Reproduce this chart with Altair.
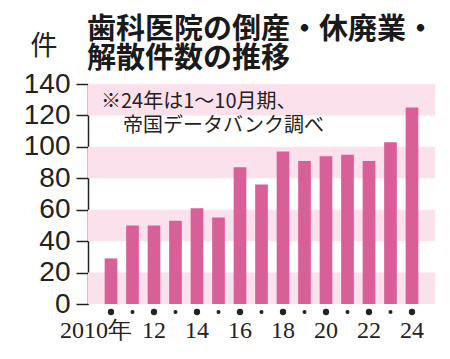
import altair as alt
import pandas as pd

years = list(range(2010, 2025))
counts = [29, 50, 50, 53, 61, 55, 87, 76, 97, 91, 94, 95, 91, 103, 125]
y_ticks = [0, 20, 40, 60, 80, 100, 120, 140]
band_lo = [0, 40, 80, 120]
band_hi = [20, 60, 100, 140]
label_years = [2012, 2014, 2016, 2018, 2020, 2022, 2024]
label_texts = ["12", "14", "16", "18", "20", "22", "24"]
title_lines = ["歯科医院の倒産・休廃業・", "解散件数の推移"]
note_lines = ["※24年は1～10月期、", "帝国データバンク調べ"]

W, H = 347, 220
BAR = "#d95f99"
BAND = "#fbe1eb"

df = pd.DataFrame({"year": years, "count": counts,
                   "big": [1 if y % 2 == 0 else 0 for y in years]})
bands = pd.DataFrame({"lo": band_lo, "hi": band_hi})
labs = pd.DataFrame({"year": label_years, "text": label_texts})
first = pd.DataFrame({"year": [years[0]], "text": [f"{years[0]}年"]})

xscale = alt.Scale(domain=years, paddingInner=0.41, paddingOuter=0.775)
yscale = alt.Scale(domain=[0, 140], nice=False)
yaxis = alt.Axis(values=y_ticks, title=None, grid=False, tickSize=12,
                 tickColor="#222", domainColor="#222", tickWidth=1.5,
                 domainWidth=1.5, labelFontSize=28, labelFont="Liberation Sans",
                 labelColor="#222", labelPadding=6, labelOverlap=False,
                 labelFlush=False, labelBound=False)

band_layer = alt.Chart(bands).mark_rect(color=BAND).encode(
    y=alt.Y("lo:Q", scale=yscale, axis=yaxis),
    y2="hi:Q",
    x=alt.value(0), x2=alt.value(W),
)

bars = alt.Chart(df).mark_bar(color=BAR).encode(
    x=alt.X("year:O", scale=xscale, axis=None),
    y=alt.Y("count:Q", scale=yscale, axis=yaxis),
)

dots = alt.Chart(df).mark_circle(color="#222", opacity=1).encode(
    x=alt.X("year:O", scale=xscale, axis=None),
    y=alt.value(H + 8),
    size=alt.Size("big:Q", scale=alt.Scale(domain=[0, 1], range=[16, 40]), legend=None),
)

xlabels = alt.Chart(labs).mark_text(font="Liberation Serif", fontSize=24, color="#222",
                                    baseline="middle").encode(
    x=alt.X("year:O", scale=xscale, axis=None),
    y=alt.value(H + 27),
    text="text:N",
)

xfirst = alt.Chart(first).mark_text(font="Liberation Serif", fontSize=24, color="#222",
                                    baseline="middle", align="right", dx=21).encode(
    x=alt.X("year:O", scale=xscale, axis=None),
    y=alt.value(H + 27),
    text="text:N",
)

title1 = alt.Chart(pd.DataFrame({"t": [title_lines[0]]})).mark_text(
    font="Noto Sans CJK JP", fontSize=29, fontWeight="bold", color="#1a1a1a",
    align="left", baseline="middle").encode(
    x=alt.value(-1), y=alt.value(-54), text="t:N")
title2 = alt.Chart(pd.DataFrame({"t": [title_lines[1]]})).mark_text(
    font="Noto Sans CJK JP", fontSize=29, fontWeight="bold", color="#1a1a1a",
    align="left", baseline="middle").encode(
    x=alt.value(-1), y=alt.value(-25), text="t:N")
unit = alt.Chart(pd.DataFrame({"t": ["件"]})).mark_text(
    font="Noto Sans CJK JP", fontSize=27, color="#222",
    align="center", baseline="middle").encode(
    x=alt.value(-44), y=alt.value(-37), text="t:N")
note1 = alt.Chart(pd.DataFrame({"t": [note_lines[0]]})).mark_text(
    font="Noto Sans CJK JP", fontSize=20, color="#222",
    align="left", baseline="middle").encode(
    x=alt.value(13), y=alt.value(18), text="t:N")
note2 = alt.Chart(pd.DataFrame({"t": [note_lines[1]]})).mark_text(
    font="Noto Sans CJK JP", fontSize=20, color="#222",
    align="left", baseline="middle").encode(
    x=alt.value(35), y=alt.value(42), text="t:N")

chart = alt.layer(band_layer, bars, dots, xlabels, xfirst, title1, title2, unit,
                  note1, note2).properties(
    width=W, height=H,
    autosize=alt.AutoSizeParams(type="none"),
    padding={"left": 80, "top": 76, "right": 7, "bottom": 55},
    background="white",
).configure_view(stroke=None)

chart.save("out.html", embed_options={"renderer": "svg", "actions": False})
